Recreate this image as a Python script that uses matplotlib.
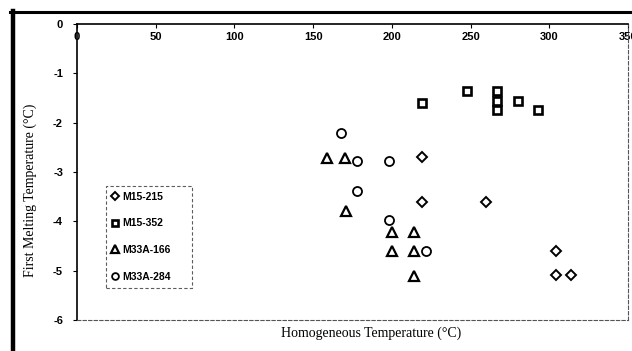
import numpy as np
from matplotlib import pyplot as plt
from matplotlib.lines import Line2D

# dane
m15_215_x = [219, 219, 260, 304, 304, 314]
m15_215_y = [-2.7, -3.6, -3.6, -4.6, -5.08, -5.08]

m15_352_x = [219, 248, 267, 267, 267, 280, 293]
m15_352_y = [-1.6, -1.36, -1.36, -1.56, -1.75, -1.56, -1.75]

m33a_166_x = [159, 170, 171, 200, 214, 200, 214, 214]
m33a_166_y = [-2.72, -2.72, -3.8, -4.22, -4.22, -4.6, -4.6, -5.1]

m33a_284_x = [168, 178, 198, 178, 198, 222]
m33a_284_y = [-2.2, -2.78, -2.78, -3.39, -3.97, -4.6]

xticks = [0, 50, 100, 150, 200, 250, 300, 350]
yticks = [0, -1, -2, -3, -4, -5, -6]

fig = plt.figure(figsize=(6.32, 3.51), dpi=100)
ax = fig.add_axes([77/632, 1 - 320/351, 551/632, 296/351])

styl = dict(linestyle='none', markerfacecolor='white', markeredgecolor='black')
ax.plot(m15_215_x, m15_215_y, marker='D', markersize=5.5, markeredgewidth=1.4, label='M15-215', **styl)
ax.plot(m15_352_x, m15_352_y, marker='s', markersize=5.5, markeredgewidth=1.9, label='M15-352', **styl)
ax.plot(m33a_166_x, m33a_166_y, marker='^', markersize=7, markeredgewidth=1.6, label='M33A-166', **styl)
ax.plot(m33a_284_x, m33a_284_y, marker='o', markersize=6.5, markeredgewidth=1.3, label='M33A-284', **styl)

ax.set_xlim(0, 350)
ax.set_ylim(-6, 0)
ax.set_xticks(xticks)
ax.set_yticks(yticks)
ax.set_xticklabels([str(t) for t in xticks], fontfamily='Liberation Sans', fontweight='bold', fontsize=8)
ax.set_yticklabels([str(t) for t in yticks], fontfamily='Liberation Sans', fontweight='bold', fontsize=8)
ax.tick_params(axis='x', top=True, bottom=False, labeltop=True, labelbottom=False,
               direction='in', length=3, pad=-13)
ax.tick_params(axis='y', direction='out', length=3, pad=7)

ax.spines['top'].set_linewidth(1.2)
ax.spines['left'].set_linewidth(1.2)
for s in ['right', 'bottom']:
    ax.spines[s].set_linestyle((0, (3, 2)))
    ax.spines[s].set_linewidth(0.8)
    ax.spines[s].set_color('#555555')

fig.text(371/632, 1 - 333/351, 'Homogeneous Temperature (°C)', ha='center', va='center',
         fontfamily='Liberation Serif', fontsize=10)
fig.text(30/632, 1 - 190/351, 'First Melting Temperature (°C)', ha='center', va='center',
         rotation=90, fontfamily='Liberation Serif', fontsize=10)

leg = ax.legend(loc='lower left', bbox_to_anchor=(106/632, 1 - 288/351, 86/632, 102/351),
                bbox_transform=fig.transFigure, mode='expand', frameon=True, fancybox=False,
                prop={'family': 'Liberation Sans', 'weight': 'bold', 'size': 7.5},
                labelspacing=1.6, handlelength=0.6, handletextpad=0.4, borderpad=0.6,
                markerscale=0.75, borderaxespad=0)
leg.get_frame().set_edgecolor('#333333')
leg.get_frame().set_linestyle((0, (3, 2)))
leg.get_frame().set_linewidth(0.8)

# ramka zewnetrzna
fig.add_artist(Line2D([12.5/632, 12.5/632], [0, 1 - 11/351], color='black', linewidth=3.2,
                      transform=fig.transFigure))
fig.add_artist(Line2D([10/632, 1], [1 - 12/351, 1 - 12/351], color='black', linewidth=2.2,
                      transform=fig.transFigure))

fig.savefig('out.png', dpi=100)
